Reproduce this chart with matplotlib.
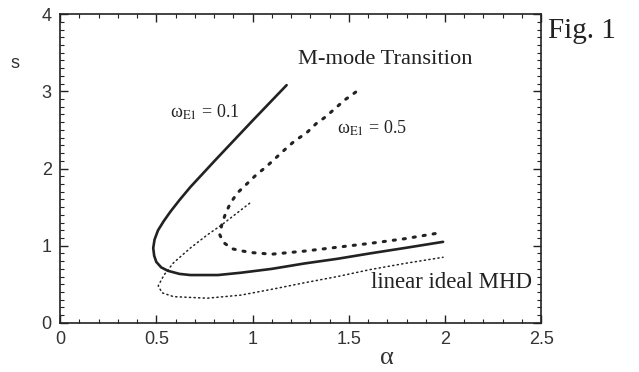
import numpy as np
import matplotlib
matplotlib.use("Agg")
import matplotlib.pyplot as plt
from matplotlib.ticker import MultipleLocator

# omega_E1 = 0.1 (solid)
alpha_w01 = [1.177, 1.0, 0.807, 0.677, 0.62, 0.573, 0.539, 0.509, 0.491, 0.484, 0.489, 0.50,
             0.525, 0.56, 0.62, 0.677, 0.82, 0.94, 1.10, 1.27, 1.44, 1.61, 1.79, 1.99]
s_w01 = [3.08, 2.62, 2.11, 1.76, 1.59, 1.44, 1.32, 1.20, 1.08, 0.97, 0.87, 0.79,
         0.72, 0.675, 0.635, 0.62, 0.62, 0.65, 0.70, 0.77, 0.83, 0.90, 0.97, 1.05]

# omega_E1 = 0.5 (thick dots)
alpha_w05 = [1.536, 1.48, 1.43, 1.38, 1.33, 1.28, 1.22, 1.17, 1.07, 1.02, 0.97, 0.92, 0.885,
             0.86, 0.84, 0.83, 0.85, 0.895, 0.95, 1.0, 1.1, 1.27, 1.44, 1.61, 1.79, 1.98]
s_w05 = [2.99, 2.89, 2.78, 2.67, 2.58, 2.46, 2.36, 2.25, 2.02, 1.92, 1.80, 1.68, 1.55,
         1.42, 1.27, 1.14, 1.04, 0.96, 0.93, 0.91, 0.89, 0.93, 0.98, 1.03, 1.09, 1.17]

# linear ideal MHD (thin dots)
alpha_mhd = [0.985, 0.84, 0.765, 0.677, 0.59, 0.54, 0.51, 0.53, 0.59, 0.765, 0.94, 1.11,
             1.27, 1.44, 1.61, 1.79, 1.99]
s_mhd = [1.55, 1.27, 1.14, 0.97, 0.78, 0.62, 0.48, 0.39, 0.34, 0.32, 0.36, 0.44,
         0.52, 0.60, 0.69, 0.77, 0.85]

x_ticks = [0, 0.5, 1, 1.5, 2, 2.5]
x_labels = ['0', '0.5', '1', '1.5', '2', '2.5']
y_ticks = [0, 1, 2, 3, 4]
y_labels = ['0', '1', '2', '3', '4']

plt.rcParams['mathtext.fontset'] = 'stix'
serif = 'Liberation Serif'
sans = 'Liberation Sans'
ink = '#222222'

fig = plt.figure(figsize=(6.39, 3.72), dpi=100)
ax = fig.add_axes([0.094, 0.132, 0.753, 0.830])

ax.plot(alpha_w01, s_w01, color=ink, lw=1.9, solid_capstyle='round', solid_joinstyle='round')
ax.plot(alpha_w05, s_w05, color=ink, lw=2.2, linestyle=(0, (0.7, 2.6)), dash_capstyle='round')
ax.plot(alpha_mhd, s_mhd, color=ink, lw=1.1, linestyle=(0, (0.8, 2.2)), dash_capstyle='round')

ax.set_xlim(0, 2.5)
ax.set_ylim(0, 4)
ax.set_xticks(x_ticks)
ax.set_xticklabels(x_labels)
ax.set_yticks(y_ticks)
ax.set_yticklabels(y_labels)
ax.xaxis.set_minor_locator(MultipleLocator(0.1))
ax.yaxis.set_minor_locator(MultipleLocator(0.1))
ax.tick_params(which='both', direction='in', top=True, right=True, color=ink)
ax.tick_params(which='major', length=6, width=1.0, labelsize=13, pad=6, labelcolor='#333333')
ax.tick_params(which='minor', length=3, width=0.8)
for lab in ax.get_xticklabels() + ax.get_yticklabels():
    lab.set_family(sans)
for sp in ax.spines.values():
    sp.set_color(ink)
    sp.set_linewidth(1.2)

ax.text(1.234, 3.36, 'M-mode Transition', family=serif, fontsize=16.2, color=ink, va='baseline')
ax.text(0.573, 2.73, r'ω$_{\rm E1}$ = 0.1', family=serif, fontsize=13, color=ink, va='center')
ax.text(1.44, 2.52, r'ω$_{\rm E1}$ = 0.5', family=serif, fontsize=13, color=ink, va='center')
ax.text(2.45, 0.45, 'linear ideal MHD', family=serif, fontsize=16.4, color=ink,
        va='baseline', ha='right')

fig.text(15 / 639, 1 - 63 / 372, 's', family=sans, fontsize=13, color='#333333',
         ha='center', va='center')
fig.text(387 / 639, 1 - 358 / 372, 'α', family=serif, fontsize=19, color='#333333',
         ha='center', va='center')
fig.text(548 / 639, 1 - 38 / 372, 'Fig. 1', family=serif, fontsize=21, color=ink, va='baseline')

fig.savefig('out.png', dpi=100)
